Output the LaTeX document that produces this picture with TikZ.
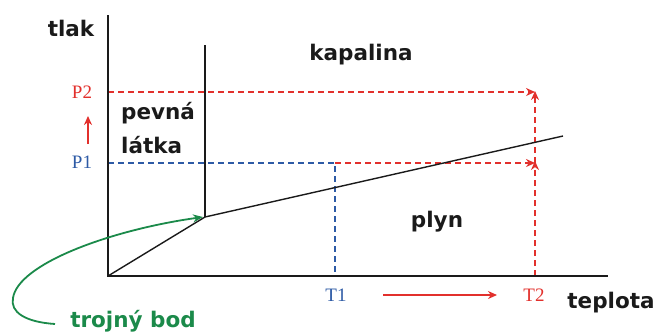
\documentclass[tikz,border=0pt]{standalone}
\usepackage{fontspec}
\setmainfont{Liberation Serif}
\newfontfamily\regionfont{DejaVu Sans}
\usetikzlibrary{arrows.meta}
\definecolor{phaseline}{HTML}{1A1A1A}
\definecolor{pathred}{HTML}{E2302C}
\definecolor{pathblue}{HTML}{2D5AA5}
\definecolor{triplegreen}{HTML}{1B8A4A}

\begin{document}
\begin{tikzpicture}[
  x={(1pt,0pt)},
  y={(0pt,-1pt)},
  line join=miter,
  axis/.style={draw=phaseline,line width=2.8pt},
  boundary/.style={draw=phaseline,line width=1.4pt},
  redpath/.style={draw=pathred,line width=1.6pt,dash pattern=on 6pt off 4pt},
  bluepath/.style={draw=pathblue,line width=1.6pt,dash pattern=on 6pt off 4pt},
  redtip/.style={-{Stealth[length=9pt,width=8pt]}},
  region/.style={font=\regionfont\bfseries\fontsize{21.5}{25}\selectfont,text=phaseline,inner sep=0pt},
  level/.style={font=\fontsize{19}{22}\selectfont,inner sep=0pt}
]
  \useasboundingbox (0,0) rectangle (656,333);

  % Axes corner and phase boundaries (pixel coordinates, y pointing down).
  \coordinate (O) at (108,276);
  \coordinate (ytop) at (108,15);
  \coordinate (xend) at (608,276);
  \coordinate (tp) at (205,217);
  \coordinate (melttop) at (205,45);
  \coordinate (vapend) at (563,136);

  % Points of the two paths.
  \coordinate (a2) at (108,92);
  \coordinate (b2) at (535,92);
  \coordinate (a1) at (108,163);
  \coordinate (c1) at (335,163);
  \coordinate (c0) at (335,276);
  \coordinate (b1) at (535,163);
  \coordinate (b0) at (535,276);

  % Labels.
  \node[region] (tlak) at (71,28) {tlak};
  \node[region] (kapalina) at (361,55) {kapalina};
  \node[region,anchor=west] (pevna) at (121,113) {pevná};
  \node[region,anchor=west] (latka) at (121,145) {látka};
  \node[region] (plyn) at (437,222) {plyn};
  \node[region] (teplota) at (611,303) {teplota};
  \node[region,text=triplegreen] (trojny) at (133,321) {trojný bod};
  \node[level,text=pathred] (P2) at (82,92) {P2};
  \node[level,text=pathblue] (P1) at (82,162) {P1};
  \node[level,text=pathblue] (T1) at (336,295) {T1};
  \node[level,text=pathred] (T2) at (534,295) {T2};

  % Dashed paths: first the blue start, then the red steps.
  \draw[bluepath] (a1) -- (c1) -- (c0);
  \draw[redpath,redtip] (c1) -- (b1);
  \draw[redpath,redtip] (a2) -- (b2);
  \draw[redpath,redtip] (b0) -- ([yshift=2pt]b1);
  \draw[redpath,redtip] (b1) -- ([yshift=1pt]b2);

  % Phase boundaries.
  \draw[boundary] (O) -- (tp) -- (vapend);
  \draw[boundary] (tp) -- (melttop);

  % Axes.
  \draw[axis] (ytop) -- (O) -- (xend);

  % Small arrows showing the rise of p and T.
  \coordinate (pup0) at (88,144);
  \coordinate (pup1) at (88,116);
  \coordinate (tup0) at (383,295);
  \coordinate (tup1) at (497,295);
  \draw[pathred,line width=1.6pt,redtip] (pup0) -- (pup1);
  \draw[pathred,line width=1.6pt,redtip] (tup0) -- (tup1);

  % Pointer to the triple point.
  \coordinate (curvestart) at (55,324);
  \coordinate (curveleft) at (13,298);
  \draw[triplegreen,line width=1.8pt,-{Stealth[length=10pt,width=8pt]}]
    (curvestart) .. controls (25,322) and (10,312) .. (curveleft)
    .. controls (18,264) and (110,230) .. ([xshift=-2pt]tp);
\end{tikzpicture}
\end{document}
